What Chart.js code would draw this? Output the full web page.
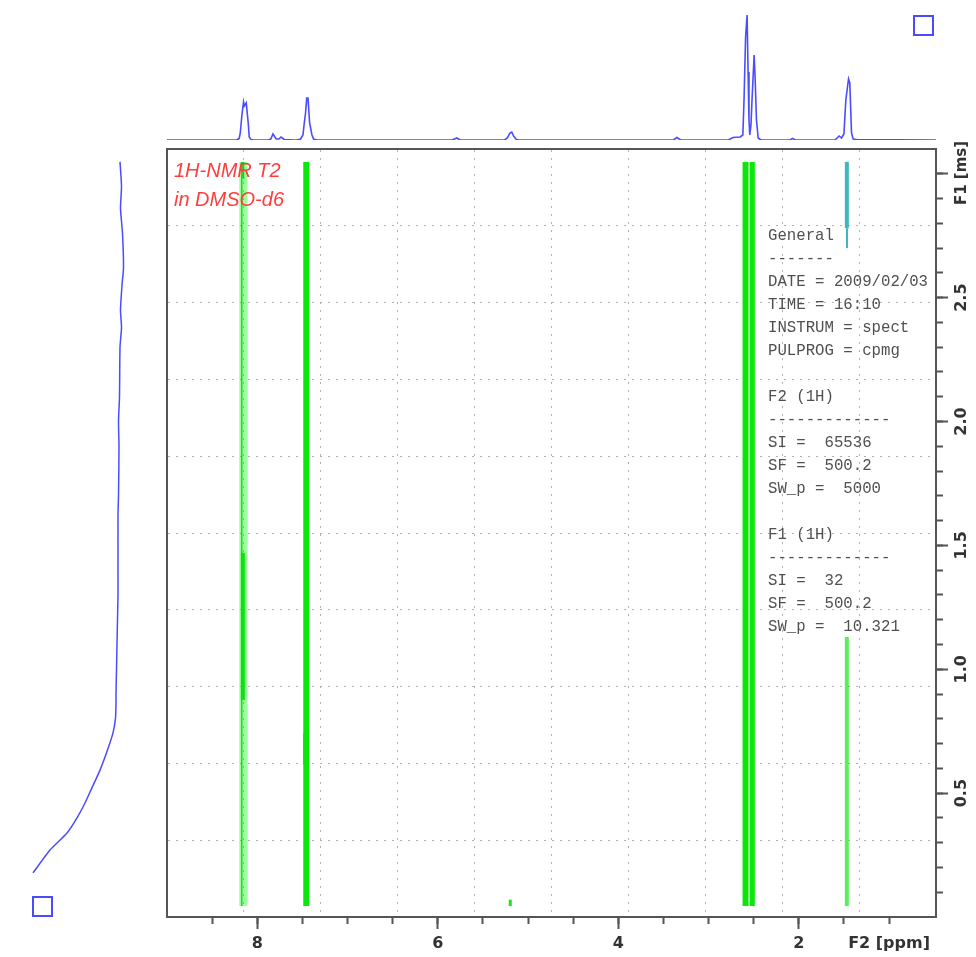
<!DOCTYPE html>
<html><head><meta charset="utf-8">
<script src="https://cdn.jsdelivr.net/npm/chart.js@4.4.1/dist/chart.umd.min.js"></script>
<style>
html,body{margin:0;padding:0;background:#fff;}
#wrap{position:relative;width:976px;height:957px;overflow:hidden;background:#fff;}
canvas{position:absolute;left:0;top:0;}
.sq{position:absolute;width:17px;height:17px;border:2px solid #4a4aff;}
#label{position:absolute;left:174px;top:156px;font:italic 20px 'Liberation Sans',Arial,sans-serif;color:#ff3d3d;line-height:29px;white-space:pre;}
#params{position:absolute;left:768px;top:225px;margin:0;font:15.7px/23px 'Liberation Mono',monospace;color:#505050;white-space:pre;}
#f1{position:absolute;left:961px;top:173px;transform:translate(-50%,-50%) rotate(-90deg);font:bold 15px 'DejaVu Sans',sans-serif;color:#333;white-space:nowrap;}
</style></head><body>
<div id="wrap">
<canvas id="main" width="976" height="957" style="width:976px;height:957px"></canvas>
<canvas id="top" width="976" height="957" style="width:976px;height:957px"></canvas>
<canvas id="side" width="976" height="957" style="width:976px;height:957px"></canvas>
<div id="label"></div>
<pre id="params"></pre>
<div id="f1"></div>
<div class="sq" style="left:913px;top:15px"></div>
<div class="sq" style="left:32px;top:896px"></div>
</div>
<script>
// ---------- data ----------
const PPM_MIN = 0.48, PPM_MAX = 9.0;     // F2 axis range (ppm, reversed)
const MS_MIN = 0.0, MS_MAX = 3.1;        // F1 axis range (ms)

const xMajorTicks = [8, 6, 4, 2, 1];
const xTickLabels = ['8', '6', '4', '2', 'F2 [ppm]'];
const yMajorTicks = [0.5, 1.0, 1.5, 2.0, 2.5, 3.0];
const yTickLabels = ['0.5', '1.0', '1.5', '2.0', '2.5', ''];
const yAxisTitle = 'F1 [ms]';

// 1D projection on top (F2 ppm vs intensity)
const specPpm = [9.00, 8.23, 8.20, 8.188, 8.17, 8.152, 8.143, 8.122, 8.10, 8.089, 8.07, 8.04,
  7.88, 7.85, 7.826, 7.79, 7.76, 7.737, 7.70, 7.60,
  7.56, 7.52, 7.494, 7.479, 7.465, 7.452, 7.438, 7.42, 7.394, 7.376, 7.34,
  5.84, 5.79, 5.75, 5.26, 5.23, 5.20, 5.18, 5.16, 5.13, 5.10,
  3.39, 3.35, 3.31,
  2.78, 2.73, 2.65, 2.62, 2.606, 2.59, 2.573, 2.562, 2.552, 2.543, 2.53, 2.517, 2.495, 2.484, 2.469, 2.45, 2.42,
  2.10, 2.07, 2.04,
  1.60, 1.553, 1.527, 1.50, 1.479, 1.462, 1.449, 1.435, 1.425, 1.416, 1.398, 1.36, 0.48];
const specInt = [0, 0, 1.5, 7, 25, 38, 34, 37, 17, 3, 0.5, 0,
  0, 1, 6, 1, 1, 3, 0.5, 0,
  0, 1, 5, 17, 27, 42, 42, 17, 5, 1, 0,
  0, 2, 0, 0, 2, 7, 8, 4, 0.5, 0,
  0, 2.5, 0,
  0, 2.5, 3, 5, 43, 102, 125, 68, 20, 5, 15, 43, 85, 62, 20, 2, 0,
  0, 1.5, 0,
  0, 4, 2, 6, 40, 52, 61, 57, 30, 7, 1, 0.5, 0];

// 1D projection on the left (F1 ms vs intensity)
const f1Times = [3.048, 2.95, 2.86, 2.76, 2.62, 2.55, 2.45, 2.38, 2.30, 2.10, 2.00, 1.90, 1.70, 1.62,
  1.40, 1.30, 1.20, 1.10, 1.00, 0.90, 0.86, 0.803, 0.743, 0.674, 0.593, 0.513, 0.46, 0.40, 0.339, 0.27, 0.178];
const f1Intensity = [120, 121.5, 120.5, 122.5, 123.5, 122, 120.5, 121.5, 120, 119.5, 118.5, 119, 118.5, 118,
  118, 118, 117.5, 117, 116.5, 116, 116, 115.5, 113, 107.5, 100, 91, 85, 77, 67, 50, 33];

// 2D contour traces: F2 position (ppm) and F1 extent (ms)
const contourPpm   = [8.155, 8.172, 8.16, 8.155, 7.457, 7.475, 2.59, 2.515, 1.468, 1.466, 1.468, 5.197];
const contourStart = [0.044, 0.044, 0.876, 2.98, 0.044, 0.614, 0.044, 0.044, 2.78, 2.70, 0.044, 0.044];
const contourEnd   = [3.048, 3.048, 1.47, 3.048, 3.048, 0.743, 3.048, 3.048, 3.048, 2.78, 1.13, 0.07];

const paramLines = ['General', '-------', 'DATE = 2009/02/03', 'TIME = 16:10', 'INSTRUM = spect', 'PULPROG = cpmg', '',
  'F2 (1H)', '-------------', 'SI =  65536', 'SF =  500.2', 'SW_p =  5000', '',
  'F1 (1H)', '-------------', 'SI =  32', 'SF =  500.2', 'SW_p =  10.321'];
const titleLines = ['1H-NMR T2', 'in DMSO-d6'];

// ---------- styles ----------
const contourStyle = [
  {c: 'rgba(0,255,0,0.38)', w: 8},
  {c: 'rgba(0,210,0,0.8)', w: 1.5},
  {c: '#10e010', w: 4},
  {c: '#10d010', w: 2},
  {c: '#0be60b', w: 6},
  {c: '#0be60b', w: 3},
  {c: '#0be60b', w: 6},
  {c: '#0be60b', w: 5},
  {c: '#3fb6c0', w: 4},
  {c: '#3fb6c0', w: 2},
  {c: 'rgba(0,230,0,0.65)', w: 4},
  {c: '#20dd20', w: 3}
];
const AXIS_COLOR = '#555';
const LABEL_FONT = {family: "'DejaVu Sans', sans-serif", weight: 'bold', size: 16};
const BLUE = '#4b4bff';

document.getElementById('label').textContent = titleLines.join('\n');
document.getElementById('params').textContent = paramLines.join('\n');
document.getElementById('f1').textContent = yAxisTitle;

const common = {
  responsive: false, animation: false, devicePixelRatio: 1, events: [],
  plugins: {legend: {display: false}, tooltip: {enabled: false}, title: {display: false}}
};

function rangeTicks(from, to, step) {
  const out = [];
  const n = Math.round((to - from) / step);
  for (let i = 0; i <= n; i++) out.push({value: +(from + i * step).toFixed(6)});
  return out;
}

// ---------- main 2D plot ----------
const contourDatasets = contourPpm.map((p, i) => ({
  data: [{x: p, y: contourStart[i]}, {x: p, y: contourEnd[i]}],
  showLine: true, pointRadius: 0, borderColor: contourStyle[i].c, backgroundColor: contourStyle[i].c,
  borderWidth: contourStyle[i].w, borderCapStyle: 'butt', tension: 0, order: contourPpm.length - i
}));

new Chart(document.getElementById('main'), {
  type: 'scatter',
  data: {datasets: contourDatasets},
  options: Object.assign({}, common, {
    layout: {padding: {left: 167, top: 149, right: 0, bottom: 0}},
    scales: {
      x: {
        type: 'linear', position: 'bottom', reverse: true, min: PPM_MIN, max: PPM_MAX, weight: 1,
        afterFit: s => { s.height = 40; },
        afterBuildTicks: s => { s.ticks = xMajorTicks.map(v => ({value: v})); },
        ticks: {callback: (v, i) => xTickLabels[i], font: LABEL_FONT, color: '#333', padding: 5,
                autoSkip: false, minRotation: 0, maxRotation: 0},
        grid: {drawOnChartArea: false, drawTicks: true, tickLength: 12, tickWidth: 2,
               tickColor: c => (xTickLabels[c.index] && xTickLabels[c.index].length > 2) ? 'rgba(0,0,0,0)' : AXIS_COLOR},
        border: {display: true, color: AXIS_COLOR, width: 2}
      },
      xMinor: {
        type: 'linear', position: 'bottom', reverse: true, min: PPM_MIN, max: PPM_MAX, weight: 0,
        afterFit: s => { s.height = 0; },
        afterBuildTicks: s => { s.ticks = rangeTicks(1.0, 8.5, 0.5); },
        ticks: {display: false},
        grid: {drawOnChartArea: false, drawTicks: true, tickLength: 7, tickWidth: 2, tickColor: AXIS_COLOR},
        border: {display: false}
      },
      xGrid: {
        type: 'linear', position: 'top', min: 0, max: 10,
        afterFit: s => { s.height = 0; },
        afterBuildTicks: s => { s.ticks = rangeTicks(0, 10, 1); },
        ticks: {display: false},
        grid: {drawTicks: false, lineWidth: 1, color: c => (c.index === 0 || c.index === 10) ? 'rgba(0,0,0,0)' : '#b0b0b0'},
        border: {display: true, color: AXIS_COLOR, width: 2, dash: [2, 6]}
      },
      y: {
        type: 'linear', position: 'right', min: MS_MIN, max: MS_MAX, weight: 1,
        afterFit: s => { s.width = 40; },
        afterBuildTicks: s => { s.ticks = yMajorTicks.map(v => ({value: v})); },
        ticks: {callback: (v, i) => yTickLabels[i] || '', font: LABEL_FONT, color: '#333', padding: 0,
                autoSkip: false, minRotation: 90, maxRotation: 90, crossAlign: 'center'},
        grid: {drawOnChartArea: false, drawTicks: true, tickLength: 12, tickWidth: 2, tickColor: AXIS_COLOR},
        border: {display: true, color: AXIS_COLOR, width: 2}
      },
      yMinor: {
        type: 'linear', position: 'right', min: MS_MIN, max: MS_MAX, weight: 0,
        afterFit: s => { s.width = 0; },
        afterBuildTicks: s => { s.ticks = rangeTicks(0.1, 3.0, 0.1); },
        ticks: {display: false},
        grid: {drawOnChartArea: false, drawTicks: true, tickLength: 7, tickWidth: 2, tickColor: AXIS_COLOR},
        border: {display: false}
      },
      yGrid: {
        type: 'linear', position: 'left', min: 0, max: 10,
        afterFit: s => { s.width = 0; },
        afterBuildTicks: s => { s.ticks = rangeTicks(0, 10, 1); },
        ticks: {display: false},
        grid: {drawTicks: false, lineWidth: 1, color: c => (c.index === 0 || c.index === 10) ? 'rgba(0,0,0,0)' : '#b0b0b0'},
        border: {display: true, color: AXIS_COLOR, width: 2, dash: [2, 6]}
      }
    }
  })
});

// ---------- top 1D spectrum ----------
new Chart(document.getElementById('top'), {
  type: 'scatter',
  data: {datasets: [{
    data: specPpm.map((p, i) => ({x: p, y: specInt[i]})),
    showLine: true, pointRadius: 0, borderColor: BLUE, borderWidth: 1.6, tension: 0
  }]},
  options: Object.assign({}, common, {
    layout: {padding: {left: 167, right: 40, top: 10, bottom: 817}},
    scales: {
      x: {type: 'linear', reverse: true, min: PPM_MIN, max: PPM_MAX, display: false},
      y: {type: 'linear', min: 0, max: 130, display: false}
    }
  })
});

// ---------- left F1 projection ----------
new Chart(document.getElementById('side'), {
  type: 'scatter',
  data: {datasets: [{
    data: f1Times.map((t, i) => ({x: f1Intensity[i], y: t})),
    showLine: true, pointRadius: 0, borderColor: BLUE, borderWidth: 1.5, tension: 0.2
  }]},
  options: Object.assign({}, common, {
    layout: {padding: {left: 0, right: 836, top: 149, bottom: 40}},
    scales: {
      x: {type: 'linear', min: 0, max: 140, display: false},
      y: {type: 'linear', min: MS_MIN, max: MS_MAX, display: false}
    }
  })
});
</script>
</body></html>
